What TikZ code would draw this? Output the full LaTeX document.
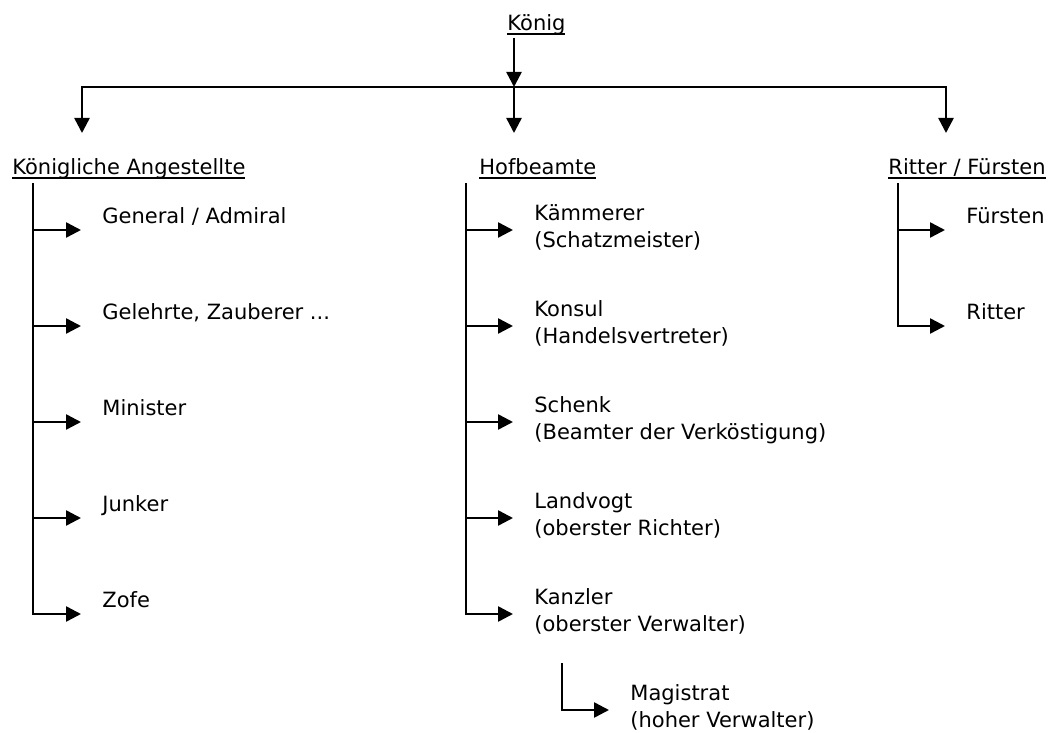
\documentclass[tikz,border=0pt]{standalone}
\usepackage{fontspec}
\setmainfont{DejaVu Sans}
\usepackage{tikz}
\usetikzlibrary{arrows.meta,calc}
\newcommand\ulbox[1]{\setbox0\hbox{#1}\rlap{\rule[-1.9pt]{\wd0}{1.1pt}}\box0}
\tikzset{
  head/.style = {inner sep=0pt, anchor=base west, font=\fontsize{10.5}{13.5}\selectfont},
  item/.style = {inner xsep=10.5pt, inner ysep=0pt, anchor=north west, align=left,
                 font=\fontsize{10.5}{13.5}\selectfont, execute at begin node=\strut},
  bar/.style  = {line width=1.25pt, draw=black},
  arr/.style  = {bar, -{Triangle[length=7.5pt,width=7.5pt]}},
}

\begin{document}
\begin{tikzpicture}[x=0.5pt,y=-0.5pt]
\useasboundingbox (0,0) rectangle (1055,733);

% headings
\node[head] (kg) at (507,31) {\ulbox{König}};
\node[head] (ka) at (12,175) {\ulbox{Königliche Angestellte}};
\node[head] (hb) at (479,175) {\ulbox{Hofbeamte}};
\node[head] (rf) at (888,175) {\ulbox{Ritter / Fürsten}};

% left column
\node[item] (ka1) at (81,204) {General / Admiral};
\node[item] (ka2) at (81,300) {Gelehrte, Zauberer ...};
\node[item] (ka3) at (81,396) {Minister};
\node[item] (ka4) at (81,492) {Junker};
\node[item] (ka5) at (81,588) {Zofe};

% middle column
\node[item] (hb1) at (513,204) {Kämmerer\\(Schatzmeister)};
\node[item] (hb2) at (513,300) {Konsul\\(Handelsvertreter)};
\node[item] (hb3) at (513,396) {Schenk\\(Beamter der Verköstigung)};
\node[item] (hb4) at (513,492) {Landvogt\\(oberster Richter)};
\node[item] (hb5) at (513,588) {Kanzler\\(oberster Verwalter)};
\node[item] (mg) at (609,684) {Magistrat\\(hoher Verwalter)};

% right column
\node[item] (rf1) at (945,204) {Fürsten};
\node[item] (rf2) at (945,300) {Ritter};

% top distribution
\coordinate (kgOut) at ($(kg.base west)+(7,7)$);
\coordinate (bus) at (kgOut |- 0,87);
\draw[arr] (kgOut) -- (bus);
\draw[arr] (bus) -| ($(ka.base west)+(70,-42)$);
\draw[arr] (bus) -- ($(hb.base west)+(35,-42)$);
\draw[arr] (bus) -| ($(rf.base west)+(58,-42)$);

% trunks
\coordinate (kaTop) at ($(ka.base west)+(21,8)$);
\coordinate (hbTop) at ($(hb.base west)+(-13,8)$);
\coordinate (rfTop) at ($(rf.base west)+(10,8)$);
\coordinate (mgTop) at ($(hb5.north west)+(49,75)$);

\draw[arr] (kaTop) |- ($(ka1.north west)+(0,26)$);
\draw[arr] (kaTop) |- ($(ka2.north west)+(0,26)$);
\draw[arr] (kaTop) |- ($(ka3.north west)+(0,26)$);
\draw[arr] (kaTop) |- ($(ka4.north west)+(0,26)$);
\draw[arr] (kaTop) |- ($(ka5.north west)+(0,26)$);

\draw[arr] (hbTop) |- ($(hb1.north west)+(0,26)$);
\draw[arr] (hbTop) |- ($(hb2.north west)+(0,26)$);
\draw[arr] (hbTop) |- ($(hb3.north west)+(0,26)$);
\draw[arr] (hbTop) |- ($(hb4.north west)+(0,26)$);
\draw[arr] (hbTop) |- ($(hb5.north west)+(0,26)$);

\draw[arr] (rfTop) |- ($(rf1.north west)+(0,26)$);
\draw[arr] (rfTop) |- ($(rf2.north west)+(0,26)$);

\draw[arr] (mgTop) |- ($(mg.north west)+(0,26)$);

\end{tikzpicture}
\end{document}
